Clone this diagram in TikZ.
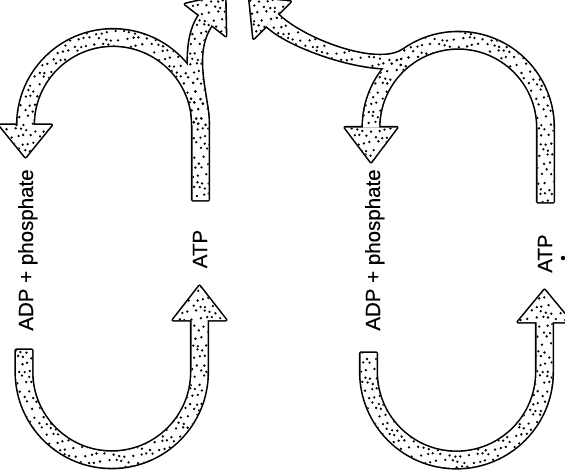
\documentclass[tikz,border=0pt]{standalone}
\usepackage{fontspec}
\newfontfamily\labfont[FakeBold=0.35]{Liberation Sans}
\tikzset{
  lbl/.style={font=\labfont\fontsize{20.5}{24}\selectfont, inner sep=0pt, rotate=90, anchor=base},
  pTL/.style={insert path={(17.5,-125) arc[start angle=180,end angle=0,radius=95.5] -- (208.5,-200) -- (192.5,-200) -- (192.5,-125) arc[start angle=0,end angle=180,radius=79.5] -- cycle}},
  hTL/.style={insert path={(-0.5,-125) -- (51.5,-125) -- (25.5,-157) -- cycle}},
  bTL/.style={insert path={(192.5,-125) .. controls (192.5,-95) and (178.8,-45.1) .. (199.3,-15.1) -- (211.7,-24.9) .. controls (191.2,-54.9) and (208.5,-95) .. (208.5,-125) -- cycle}},
  gTL/.style={insert path={(185.2,-4.1) -- (225.8,-35.9) -- (225,5) -- cycle}},
  pTR/.style={insert path={(363,-127.5) arc[start angle=180,end angle=0,radius=95.25] -- (553.5,-202) -- (537.5,-202) -- (537.5,-127.5) arc[start angle=0,end angle=180,radius=79.25] -- cycle}},
  hTR/.style={insert path={(345,-127.5) -- (397,-127.5) -- (371,-162) -- cycle}},
  sTR/.style={insert path={(403.6,-49.45) .. controls (377.4,-67.85) and (302.4,-39.0) .. (277.7,-14.3) -- (266.3,-25.7) .. controls (291.0,-50.4) and (386.6,-80.95) .. (412.8,-62.55) -- cycle}},
  gTR/.style={insert path={(290.4,-1.6) -- (253.6,-38.4) -- (249.4,2.6) -- cycle}},
  pBL/.style={insert path={(16,-350) -- (16,-372) arc[start angle=180,end angle=360,radius=95.75] -- (207.5,-320) -- (191.5,-320) -- (191.5,-372) arc[start angle=360,end angle=180,radius=79.75] -- (32,-350) -- cycle}},
  hBL/.style={insert path={(173,-320) -- (226,-320) -- (199.5,-286) -- cycle}},
  pBR/.style={insert path={(360.5,-353) -- (360.5,-372) arc[start angle=180,end angle=360,radius=96] -- (552.5,-322) -- (536.5,-322) -- (536.5,-372) arc[start angle=360,end angle=180,radius=80] -- (376.5,-353) -- cycle}},
  hBR/.style={insert path={(518,-322) -- (571,-322) -- (544.5,-290) -- cycle}}
}
\newcommand\allbands[1]{%
  \path[#1,pTL]; \path[#1,hTL]; \path[#1,bTL]; \path[#1,gTL];
  \path[#1,pTR]; \path[#1,hTR]; \path[#1,sTR]; \path[#1,gTR];
  \path[#1,pBL]; \path[#1,hBL]; \path[#1,pBR]; \path[#1,hBR];}
% stipple dots inside one band: style, i range, j range (grid 7 x 6.5)
\newcommand\stipple[5]{%
  \begin{scope}
  \path[clip,#1];
  \foreach \i in {#2,...,#3}{\foreach \j in {#4,...,#5}{%
    \fill ({\i*7+mod(\j,2)*3.5+1.7*sin(\i*97.3+\j*41.7)},{\j*6.5+1.7*cos(\i*53.1+\j*113.9)}) circle[radius=1.3];}}
  \end{scope}}
\begin{document}
\begin{tikzpicture}[x=1pt,y=1pt,line join=round]
\path[use as bounding box] (0,0) rectangle (565,-469);
\clip (0,0) rectangle (565,-469);
\fill[white] (0,0) rectangle (565,-469);
\allbands{draw=black,line width=3.2pt}
\allbands{fill=white}
\stipple{pTL}{1}{31}{-32}{-3}
\stipple{hTL}{-1}{8}{-25}{-18}
\stipple{bTL}{24}{31}{-20}{-1}
\stipple{gTL}{25}{33}{-7}{2}
\stipple{pTR}{50}{80}{-32}{-3}
\stipple{hTR}{48}{58}{-26}{-18}
\stipple{sTR}{37}{60}{-14}{-1}
\stipple{gTR}{34}{42}{-7}{2}
\stipple{pBL}{1}{30}{-73}{-48}
\stipple{hBL}{23}{33}{-50}{-43}
\stipple{pBR}{50}{80}{-73}{-48}
\stipple{hBR}{72}{82}{-50}{-43}
\node[lbl] (adp1) at (33,-250) {ADP + phosphate};
\node[lbl] (atp1) at (207,-249) {ATP};
\node[lbl] (adp2) at (380,-250) {ADP + phosphate};
\node[lbl] (atp2) at (552,-253.5) {ATP};
\node[circle,fill=black,inner sep=0pt,minimum size=4.5pt] (dot) at (563,-258) {};
\end{tikzpicture}
\end{document}
